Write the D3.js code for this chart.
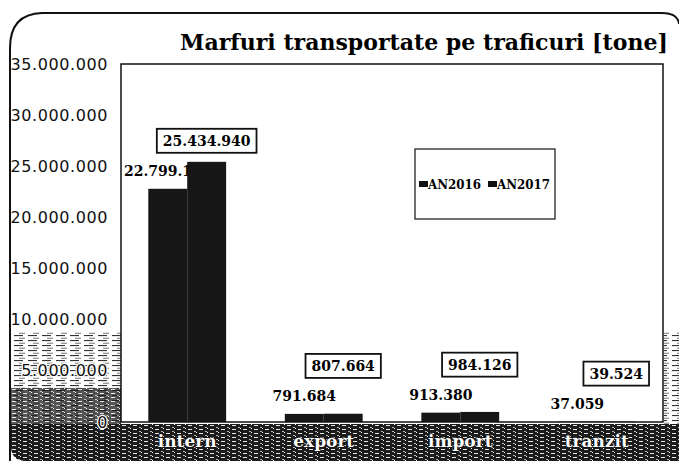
<!DOCTYPE html>
<html>
<head>
<meta charset="utf-8">
<script src="https://cdn.jsdelivr.net/npm/d3@7"></script>
<style>
  body { margin: 0; background: #fff; }
  svg { display: block; }
  .ylab text { font-family: "DejaVu Sans", sans-serif; font-size: 16px; letter-spacing: 0.6px; }
  .dlabel { font-family: "DejaVu Serif", serif; font-weight: bold; font-size: 14px; }
  .catlab { font-family: "DejaVu Serif", serif; font-weight: bold; font-size: 17px; }
</style>
</head>
<body>
<svg id="chart"></svg>
<script>
// data
const categories = ['intern', 'export', 'import', 'tranzit'];
const seriesNames = ['AN2016', 'AN2017'];
const an2016 = [22799133, 791684, 913380, 37059];
const an2017 = [25434940, 807664, 984126, 39524];
const yTickValues = [0, 5000000, 10000000, 15000000, 20000000, 25000000, 30000000, 35000000];
const titleText = 'Marfuri transportate pe traficuri [tone]';

const W = 679, H = 461;
const plot = { left: 121, right: 663, top: 64, bottom: 422 };

const ro = d3.formatLocale({ decimal: ',', thousands: '.', grouping: [3], currency: ['', ' lei'] });
const fmt = ro.format(',d');

const svg = d3.select('#chart').attr('width', W).attr('height', H);

// scanned halftone textures
const defs = svg.append('defs');
const pl = defs.append('pattern').attr('id', 'scanLight')
  .attr('width', 14).attr('height', 5).attr('patternUnits', 'userSpaceOnUse');
pl.append('rect').attr('width', 14).attr('height', 5).attr('fill', '#fff');
pl.append('rect').attr('x', 0).attr('y', 0).attr('width', 9).attr('height', 1.1).attr('fill', '#333');
pl.append('rect').attr('x', 5).attr('y', 2.8).attr('width', 6).attr('height', 0.8).attr('fill', '#555');

const pd = defs.append('pattern').attr('id', 'scanDark')
  .attr('width', 11).attr('height', 4).attr('patternUnits', 'userSpaceOnUse');
pd.append('rect').attr('width', 11).attr('height', 4).attr('fill', '#1c1c1c');
pd.append('rect').attr('x', 1).attr('y', 1).attr('width', 4).attr('height', 0.9).attr('fill', '#fff');
pd.append('rect').attr('x', 7).attr('y', 3).attr('width', 2).attr('height', 0.8).attr('fill', '#ddd');
pd.append('rect').attr('x', 9).attr('y', 0).attr('width', 1).attr('height', 1).attr('fill', '#fff');

svg.append('rect').attr('width', W).attr('height', H).attr('fill', '#fff');

// noisy bands of the scan
svg.append('rect').attr('x', 11).attr('y', 332).attr('width', 110).attr('height', 92).attr('fill', 'url(#scanLight)');
svg.append('rect').attr('x', 11).attr('y', 388).attr('width', 110).attr('height', 36).attr('fill', 'url(#scanDark)').attr('opacity', 0.75);
svg.append('rect').attr('x', 664).attr('y', 332).attr('width', 15).attr('height', 92).attr('fill', 'url(#scanLight)');
svg.append('path')
  .attr('d', `M11,424 L679,424 L679,461 L26,461 Q11,461 11,446 Z`)
  .attr('fill', 'url(#scanDark)');

// outer border
svg.append('path')
  .attr('d', 'M10,461 L10,48 Q10,14 42,13 L662,13 Q678,13 679,24')
  .attr('fill', 'none').attr('stroke', '#111').attr('stroke-width', 2);

// title, squeezed horizontally to the scan's width
const title = svg.append('text')
  .style('font-family', '"DejaVu Serif", serif').style('font-weight', 'bold').style('font-size', '23px')
  .text(titleText);
const titleW = title.node().getComputedTextLength();
title.attr('transform', `translate(180,50) scale(${488 / titleW},1)`);

// scales
const x = d3.scaleBand().domain(categories).range([plot.left, plot.right]).paddingInner(0.43).paddingOuter(0.2);
const xs = d3.scaleBand().domain(seriesNames).range([0, x.bandwidth()]);
const y = d3.scaleLinear().domain([0, 35000000]).range([plot.bottom, plot.top]);

// plot frame
svg.append('rect')
  .attr('x', plot.left).attr('y', plot.top)
  .attr('width', plot.right - plot.left).attr('height', plot.bottom - plot.top)
  .attr('fill', '#fff').attr('stroke', '#111').attr('stroke-width', 1.5);

// y axis
const yAxis = d3.axisLeft(y).tickValues(yTickValues).tickSize(0).tickPadding(0).tickFormat(fmt);
const gy = svg.append('g').attr('class', 'ylab').attr('transform', 'translate(108,0)').call(yAxis);
gy.select('.domain').remove();
gy.selectAll('text')
  .attr('fill', '#111')
  .attr('stroke', d => y(d) > 340 ? '#fff' : 'none')
  .attr('stroke-width', 2.5)
  .style('paint-order', 'stroke');

const rows = categories.map((c, i) => ({ cat: c, v16: an2016[i], v17: an2017[i] }));

// AN2016 bars + labels
svg.append('g').selectAll('rect').data(rows).join('rect')
  .attr('x', d => x(d.cat) + xs('AN2016'))
  .attr('y', d => y(d.v16))
  .attr('width', xs.bandwidth())
  .attr('height', d => y(0) - y(d.v16))
  .attr('fill', '#161616');

const lab16Y = d => y(d.v16) - 18;
svg.append('g').selectAll('text').data(rows).join('text')
  .attr('class', 'dlabel')
  .attr('x', d => x(d.cat) + xs('AN2016') + xs.bandwidth() / 2)
  .attr('y', lab16Y)
  .attr('dy', '0.35em')
  .attr('text-anchor', 'middle')
  .text(d => fmt(d.v16));

// AN2017 bars (cover part of the intern label, as in the scan)
svg.append('g').selectAll('rect').data(rows).join('rect')
  .attr('x', d => x(d.cat) + xs('AN2017'))
  .attr('y', d => y(d.v17))
  .attr('width', xs.bandwidth())
  .attr('height', d => y(0) - y(d.v17))
  .attr('fill', '#161616');

// AN2017 boxed labels
const lab17Y = d => Math.min(y(d.v17) - 21, lab16Y(d) - 30);
const g17 = svg.append('g').selectAll('g').data(rows).join('g')
  .attr('transform', d => `translate(${x(d.cat) + xs('AN2017') + xs.bandwidth() / 2},${lab17Y(d)})`);
g17.append('text')
  .attr('class', 'dlabel')
  .attr('text-anchor', 'middle')
  .attr('dy', '0.35em')
  .text(d => fmt(d.v17));
g17.each(function() {
  const t = d3.select(this).select('text');
  const w = t.node().getComputedTextLength();
  d3.select(this).insert('rect', 'text')
    .attr('x', -w / 2 - 6).attr('y', -12)
    .attr('width', w + 12).attr('height', 24)
    .attr('fill', '#fff').attr('stroke', '#111').attr('stroke-width', 1.8);
});

// legend
const leg = svg.append('g').attr('transform', 'translate(415,149)');
leg.append('rect').attr('width', 140).attr('height', 70)
  .attr('fill', '#fff').attr('stroke', '#111').attr('stroke-width', 1.2);
const legItems = leg.selectAll('g').data(seriesNames).join('g')
  .attr('transform', (d, i) => `translate(${4 + i * 69},36)`);
legItems.append('rect').attr('x', 0).attr('y', -4).attr('width', 9).attr('height', 6).attr('fill', '#111');
legItems.append('text').attr('x', 9).attr('dy', '0.32em')
  .style('font-family', '"DejaVu Serif", serif').style('font-weight', 'bold').style('font-size', '12.5px')
  .attr('textLength', 53).attr('lengthAdjust', 'spacingAndGlyphs')
  .text(d => d);

// category labels over the dark band
svg.append('g').selectAll('text').data(categories).join('text')
  .attr('class', 'catlab')
  .attr('x', d => x(d) + x.bandwidth() / 2)
  .attr('y', 441)
  .attr('dy', '0.35em')
  .attr('text-anchor', 'middle')
  .attr('fill', '#fff').attr('stroke', '#111').attr('stroke-width', 1.5)
  .style('paint-order', 'stroke')
  .text(d => d);
</script>
</body>
</html>
